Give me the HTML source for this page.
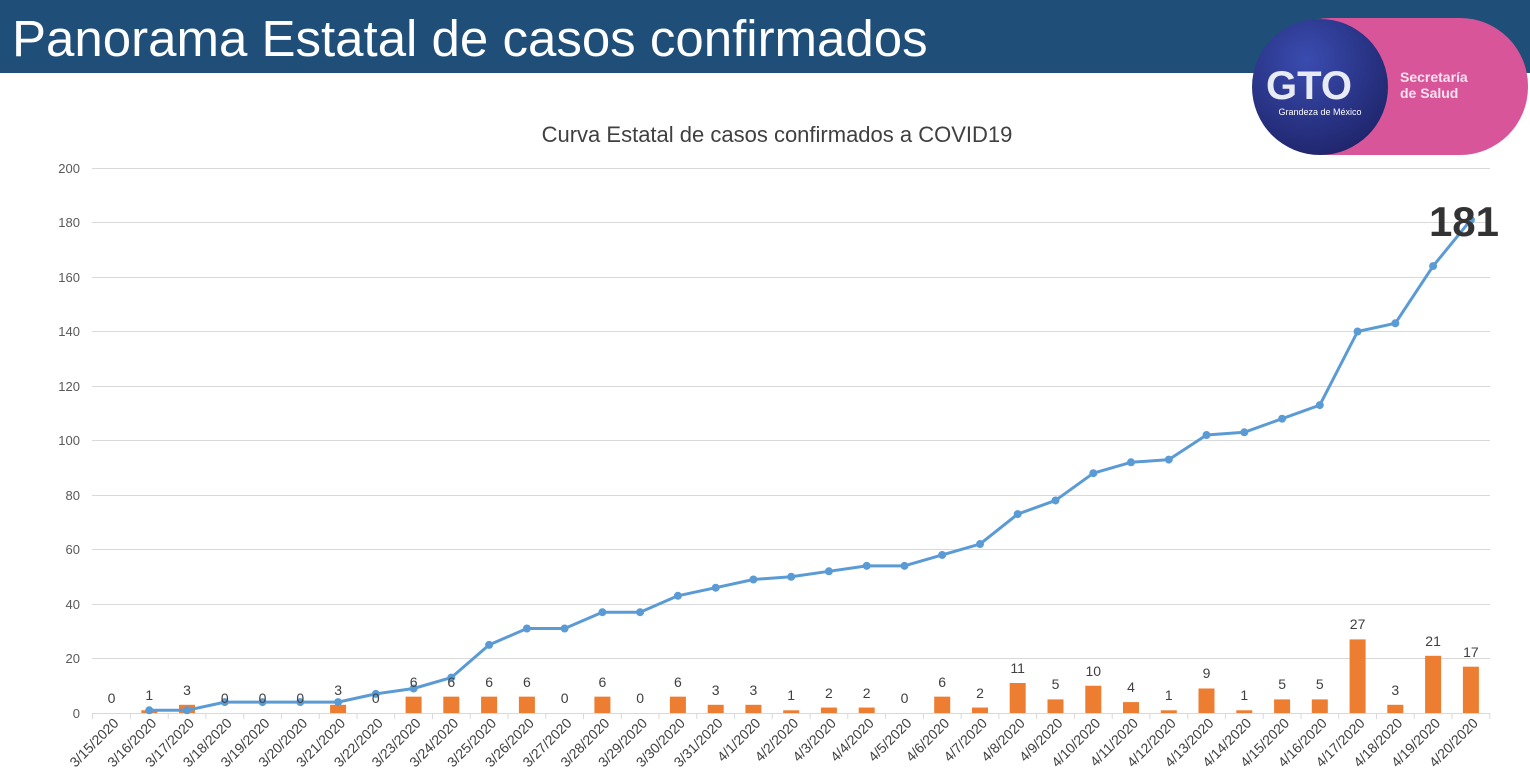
<!DOCTYPE html>
<html><head><meta charset="utf-8"><style>
body{margin:0;background:#fff;width:1530px;height:778px;overflow:hidden;font-family:"Liberation Sans",sans-serif}
</style></head><body>
<svg width="1530" height="778" xmlns="http://www.w3.org/2000/svg" font-family="Liberation Sans, sans-serif">
<rect x="0" y="0" width="1530" height="73" fill="#1f4e79"/>
<text x="12" y="56" font-size="51" fill="#fff">Panorama Estatal de casos confirmados</text>
<!-- logo -->
<rect x="1262" y="18" width="266" height="137" rx="68" fill="#d9559a"/>
<defs><radialGradient id="g" cx="0.4" cy="0.3" r="0.8"><stop offset="0" stop-color="#3a4cb0"/><stop offset="1" stop-color="#1d2266"/></radialGradient></defs>
<circle cx="1320" cy="87" r="68" fill="url(#g)"/>
<text x="1266" y="99" font-size="40" font-weight="bold" fill="#e8eaf4">GTO</text>
<text x="1320" y="115" font-size="9" fill="#fff" text-anchor="middle">Grandeza de México</text>
<text x="1400" y="82" font-size="14" font-weight="bold" fill="#fbe3ef">Secretaría</text>
<text x="1400" y="98" font-size="14" font-weight="bold" fill="#fbe3ef">de Salud</text>
<text x="777" y="142" font-size="22" fill="#404040" text-anchor="middle">Curva Estatal de casos confirmados a COVID19</text>
<g stroke="#d9d9d9" stroke-width="1">
<line x1="92" y1="168.5" x2="1490" y2="168.5"/><line x1="92" y1="222.5" x2="1490" y2="222.5"/><line x1="92" y1="277.5" x2="1490" y2="277.5"/><line x1="92" y1="331.5" x2="1490" y2="331.5"/><line x1="92" y1="386.5" x2="1490" y2="386.5"/><line x1="92" y1="440.5" x2="1490" y2="440.5"/><line x1="92" y1="495.5" x2="1490" y2="495.5"/><line x1="92" y1="549.5" x2="1490" y2="549.5"/><line x1="92" y1="604.5" x2="1490" y2="604.5"/><line x1="92" y1="658.5" x2="1490" y2="658.5"/><line x1="92" y1="713.5" x2="1490" y2="713.5"/>
</g>
<g font-size="13" fill="#595959" text-anchor="end">
<text x="80" y="173">200</text><text x="80" y="227">180</text><text x="80" y="282">160</text><text x="80" y="336">140</text><text x="80" y="391">120</text><text x="80" y="445">100</text><text x="80" y="500">80</text><text x="80" y="554">60</text><text x="80" y="609">40</text><text x="80" y="663">20</text><text x="80" y="718">0</text>
</g>
<g stroke="#d9d9d9"><line x1="92.6" y1="713" x2="92.6" y2="719"/><line x1="130.4" y1="713" x2="130.4" y2="719"/><line x1="168.2" y1="713" x2="168.2" y2="719"/><line x1="205.9" y1="713" x2="205.9" y2="719"/><line x1="243.7" y1="713" x2="243.7" y2="719"/><line x1="281.4" y1="713" x2="281.4" y2="719"/><line x1="319.2" y1="713" x2="319.2" y2="719"/><line x1="357" y1="713" x2="357" y2="719"/><line x1="394.7" y1="713" x2="394.7" y2="719"/><line x1="432.5" y1="713" x2="432.5" y2="719"/><line x1="470.2" y1="713" x2="470.2" y2="719"/><line x1="508" y1="713" x2="508" y2="719"/><line x1="545.8" y1="713" x2="545.8" y2="719"/><line x1="583.5" y1="713" x2="583.5" y2="719"/><line x1="621.3" y1="713" x2="621.3" y2="719"/><line x1="659" y1="713" x2="659" y2="719"/><line x1="696.8" y1="713" x2="696.8" y2="719"/><line x1="734.6" y1="713" x2="734.6" y2="719"/><line x1="772.3" y1="713" x2="772.3" y2="719"/><line x1="810.1" y1="713" x2="810.1" y2="719"/><line x1="847.8" y1="713" x2="847.8" y2="719"/><line x1="885.6" y1="713" x2="885.6" y2="719"/><line x1="923.4" y1="713" x2="923.4" y2="719"/><line x1="961.1" y1="713" x2="961.1" y2="719"/><line x1="998.9" y1="713" x2="998.9" y2="719"/><line x1="1036.6" y1="713" x2="1036.6" y2="719"/><line x1="1074.4" y1="713" x2="1074.4" y2="719"/><line x1="1112.2" y1="713" x2="1112.2" y2="719"/><line x1="1149.9" y1="713" x2="1149.9" y2="719"/><line x1="1187.7" y1="713" x2="1187.7" y2="719"/><line x1="1225.4" y1="713" x2="1225.4" y2="719"/><line x1="1263.2" y1="713" x2="1263.2" y2="719"/><line x1="1301" y1="713" x2="1301" y2="719"/><line x1="1338.7" y1="713" x2="1338.7" y2="719"/><line x1="1376.5" y1="713" x2="1376.5" y2="719"/><line x1="1414.2" y1="713" x2="1414.2" y2="719"/><line x1="1452" y1="713" x2="1452" y2="719"/><line x1="1489.8" y1="713" x2="1489.8" y2="719"/></g>
<g fill="#ed7d31">
<rect x="141.3" y="710.3" width="16" height="2.7"/>
<rect x="179" y="704.8" width="16" height="8.2"/>
<rect x="330.1" y="704.8" width="16" height="8.2"/>
<rect x="405.6" y="696.65" width="16" height="16.35"/>
<rect x="443.3" y="696.65" width="16" height="16.35"/>
<rect x="481.1" y="696.65" width="16" height="16.35"/>
<rect x="518.9" y="696.65" width="16" height="16.35"/>
<rect x="594.4" y="696.65" width="16" height="16.35"/>
<rect x="669.9" y="696.65" width="16" height="16.35"/>
<rect x="707.7" y="704.8" width="16" height="8.2"/>
<rect x="745.4" y="704.8" width="16" height="8.2"/>
<rect x="783.2" y="710.3" width="16" height="2.7"/>
<rect x="820.9" y="707.55" width="16" height="5.45"/>
<rect x="858.7" y="707.55" width="16" height="5.45"/>
<rect x="934.2" y="696.65" width="16" height="16.35"/>
<rect x="972" y="707.55" width="16" height="5.45"/>
<rect x="1009.7" y="683" width="16" height="30"/>
<rect x="1047.5" y="699.4" width="16" height="13.6"/>
<rect x="1085.3" y="685.75" width="16" height="27.25"/>
<rect x="1123" y="702.1" width="16" height="10.9"/>
<rect x="1160.8" y="710.3" width="16" height="2.7"/>
<rect x="1198.5" y="688.5" width="16" height="24.5"/>
<rect x="1236.3" y="710.3" width="16" height="2.7"/>
<rect x="1274.1" y="699.4" width="16" height="13.6"/>
<rect x="1311.8" y="699.4" width="16" height="13.6"/>
<rect x="1349.6" y="639.4" width="16" height="73.6"/>
<rect x="1387.3" y="704.8" width="16" height="8.2"/>
<rect x="1425.1" y="655.8" width="16" height="57.2"/>
<rect x="1462.9" y="666.7" width="16" height="46.3"/>
</g>
<polyline fill="none" stroke="#5b9bd5" stroke-width="3" stroke-linejoin="round" points="149.3,710.3 187,710.3 224.8,702.1 262.5,702.1 300.3,702.1 338.1,702.1 375.8,693.9 413.6,688.5 451.3,677.6 489.1,644.9 526.9,628.5 564.6,628.5 602.4,612.2 640.1,612.2 677.9,595.8 715.7,587.7 753.4,579.5 791.2,576.75 828.9,571.3 866.7,565.85 904.5,565.85 942.2,554.95 980,544.05 1017.7,514.1 1055.5,500.45 1093.3,473.2 1131,462.3 1168.8,459.6 1206.5,435.05 1244.3,432.3 1282.1,418.7 1319.8,405.1 1357.6,331.5 1395.3,323.3 1433.1,266.1 1470.9,219.8"/>
<g fill="#5b9bd5">
<circle cx="149.3" cy="710.3" r="4"/><circle cx="187" cy="710.3" r="4"/><circle cx="224.8" cy="702.1" r="4"/><circle cx="262.5" cy="702.1" r="4"/><circle cx="300.3" cy="702.1" r="4"/><circle cx="338.1" cy="702.1" r="4"/><circle cx="375.8" cy="693.9" r="4"/><circle cx="413.6" cy="688.5" r="4"/><circle cx="451.3" cy="677.6" r="4"/><circle cx="489.1" cy="644.9" r="4"/><circle cx="526.9" cy="628.5" r="4"/><circle cx="564.6" cy="628.5" r="4"/><circle cx="602.4" cy="612.2" r="4"/><circle cx="640.1" cy="612.2" r="4"/><circle cx="677.9" cy="595.8" r="4"/><circle cx="715.7" cy="587.7" r="4"/><circle cx="753.4" cy="579.5" r="4"/><circle cx="791.2" cy="576.75" r="4"/><circle cx="828.9" cy="571.3" r="4"/><circle cx="866.7" cy="565.85" r="4"/><circle cx="904.5" cy="565.85" r="4"/><circle cx="942.2" cy="554.95" r="4"/><circle cx="980" cy="544.05" r="4"/><circle cx="1017.7" cy="514.1" r="4"/><circle cx="1055.5" cy="500.45" r="4"/><circle cx="1093.3" cy="473.2" r="4"/><circle cx="1131" cy="462.3" r="4"/><circle cx="1168.8" cy="459.6" r="4"/><circle cx="1206.5" cy="435.05" r="4"/><circle cx="1244.3" cy="432.3" r="4"/><circle cx="1282.1" cy="418.7" r="4"/><circle cx="1319.8" cy="405.1" r="4"/><circle cx="1357.6" cy="331.5" r="4"/><circle cx="1395.3" cy="323.3" r="4"/><circle cx="1433.1" cy="266.1" r="4"/><circle cx="1470.9" cy="219.8" r="4"/>
</g>
<g font-size="14" fill="#404040" text-anchor="middle">
<text x="111.5" y="703">0</text><text x="149.3" y="700">1</text><text x="187" y="695">3</text><text x="224.8" y="703">0</text><text x="262.5" y="703">0</text><text x="300.3" y="703">0</text><text x="338.1" y="695">3</text><text x="375.8" y="703">0</text><text x="413.6" y="687">6</text><text x="451.3" y="687">6</text><text x="489.1" y="687">6</text><text x="526.9" y="687">6</text><text x="564.6" y="703">0</text><text x="602.4" y="687">6</text><text x="640.1" y="703">0</text><text x="677.9" y="687">6</text><text x="715.7" y="695">3</text><text x="753.4" y="695">3</text><text x="791.2" y="700">1</text><text x="828.9" y="698">2</text><text x="866.7" y="698">2</text><text x="904.5" y="703">0</text><text x="942.2" y="687">6</text><text x="980" y="698">2</text><text x="1017.7" y="673">11</text><text x="1055.5" y="689">5</text><text x="1093.3" y="676">10</text><text x="1131" y="692">4</text><text x="1168.8" y="700">1</text><text x="1206.5" y="678">9</text><text x="1244.3" y="700">1</text><text x="1282.1" y="689">5</text><text x="1319.8" y="689">5</text><text x="1357.6" y="629">27</text><text x="1395.3" y="695">3</text><text x="1433.1" y="646">21</text><text x="1470.9" y="657">17</text>
</g>
<text x="1464" y="236" font-size="42" font-weight="bold" fill="#333" text-anchor="middle">181</text>
<g font-size="14" fill="#404040" text-anchor="end">
<text transform="translate(119.5,724) rotate(-45)">3/15/2020</text>
<text transform="translate(157.3,724) rotate(-45)">3/16/2020</text>
<text transform="translate(195,724) rotate(-45)">3/17/2020</text>
<text transform="translate(232.8,724) rotate(-45)">3/18/2020</text>
<text transform="translate(270.5,724) rotate(-45)">3/19/2020</text>
<text transform="translate(308.3,724) rotate(-45)">3/20/2020</text>
<text transform="translate(346.1,724) rotate(-45)">3/21/2020</text>
<text transform="translate(383.8,724) rotate(-45)">3/22/2020</text>
<text transform="translate(421.6,724) rotate(-45)">3/23/2020</text>
<text transform="translate(459.3,724) rotate(-45)">3/24/2020</text>
<text transform="translate(497.1,724) rotate(-45)">3/25/2020</text>
<text transform="translate(534.9,724) rotate(-45)">3/26/2020</text>
<text transform="translate(572.6,724) rotate(-45)">3/27/2020</text>
<text transform="translate(610.4,724) rotate(-45)">3/28/2020</text>
<text transform="translate(648.1,724) rotate(-45)">3/29/2020</text>
<text transform="translate(685.9,724) rotate(-45)">3/30/2020</text>
<text transform="translate(723.7,724) rotate(-45)">3/31/2020</text>
<text transform="translate(761.4,724) rotate(-45)">4/1/2020</text>
<text transform="translate(799.2,724) rotate(-45)">4/2/2020</text>
<text transform="translate(836.9,724) rotate(-45)">4/3/2020</text>
<text transform="translate(874.7,724) rotate(-45)">4/4/2020</text>
<text transform="translate(912.5,724) rotate(-45)">4/5/2020</text>
<text transform="translate(950.2,724) rotate(-45)">4/6/2020</text>
<text transform="translate(988,724) rotate(-45)">4/7/2020</text>
<text transform="translate(1025.7,724) rotate(-45)">4/8/2020</text>
<text transform="translate(1063.5,724) rotate(-45)">4/9/2020</text>
<text transform="translate(1101.3,724) rotate(-45)">4/10/2020</text>
<text transform="translate(1139,724) rotate(-45)">4/11/2020</text>
<text transform="translate(1176.8,724) rotate(-45)">4/12/2020</text>
<text transform="translate(1214.5,724) rotate(-45)">4/13/2020</text>
<text transform="translate(1252.3,724) rotate(-45)">4/14/2020</text>
<text transform="translate(1290.1,724) rotate(-45)">4/15/2020</text>
<text transform="translate(1327.8,724) rotate(-45)">4/16/2020</text>
<text transform="translate(1365.6,724) rotate(-45)">4/17/2020</text>
<text transform="translate(1403.3,724) rotate(-45)">4/18/2020</text>
<text transform="translate(1441.1,724) rotate(-45)">4/19/2020</text>
<text transform="translate(1478.9,724) rotate(-45)">4/20/2020</text>
</g>
</svg>
</body></html>
